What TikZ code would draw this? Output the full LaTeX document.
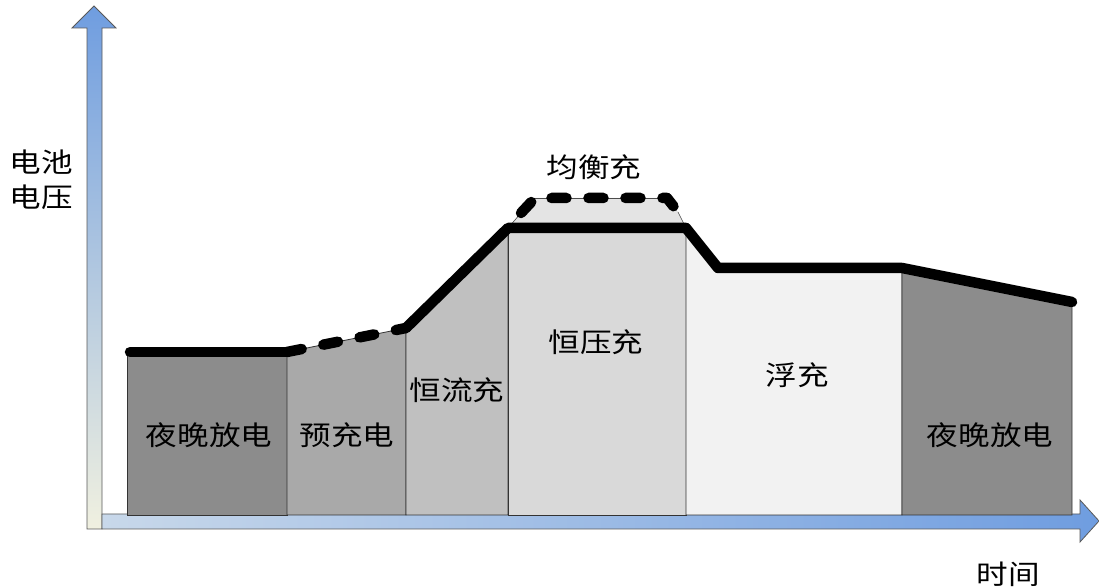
\documentclass[tikz,border=0pt]{standalone}
\usepackage{fontspec}
\newfontfamily\cjk{Noto Sans CJK SC}
\begin{document}
\begin{tikzpicture}[x=1pt,y=1pt,
  lbl/.style={font=\cjk\fontsize{27}{35}\selectfont, inner sep=0pt, xscale=1.17, align=center},
  region/.style={draw=black!80, line width=0.8pt},
  thick line/.style={line width=10.5pt, line cap=round, line join=round},
  thick dash/.style={line width=10.5pt, line cap=round, line join=round, dash pattern=on 15pt off 22pt},
  thin link/.style={line width=0.6pt, draw=black!70},
  arrowbody/.style={draw=black!65, line width=0.8pt}]
\definecolor{gA}{HTML}{8C8C8C}
\definecolor{gB}{HTML}{A9A9A9}
\definecolor{gC}{HTML}{C0C0C0}
\definecolor{gD}{HTML}{D9D9D9}
\definecolor{gE}{HTML}{F2F2F2}
\definecolor{blueA}{HTML}{6F9DE0}
\definecolor{blueB}{HTML}{C8D8EA}
\definecolor{paleY}{HTML}{F0F0E0}
\useasboundingbox (0,0) rectangle (1099,588);

% key points
\coordinate (p0) at (130,236);
\coordinate (p1) at (287,236);
\coordinate (p2) at (406,260);
\coordinate (p3) at (508,360);
\coordinate (p4) at (686,360);
\coordinate (p5) at (718,320);
\coordinate (p6) at (902,320);
\coordinate (p7) at (1072,286);
\coordinate (q0) at (521,375);
\coordinate (q1) at (535,390);
\coordinate (q2) at (667,390);
\coordinate (q3) at (678,376);

% vertical axis arrow
\shade[top color=blueA, bottom color=paleY, arrowbody]
  (87,59) -- (87,560) -- (72,560) -- (94,582) -- (116,560) -- (102,560) -- (102,59) -- cycle;
% horizontal axis arrow
\shade[left color=blueB, right color=blueA, arrowbody]
  (102,59) -- (102,74) -- (1080,74) -- (1080,88) -- (1099,67) -- (1080,46) -- (1080,59) -- cycle;

% regions
\fill[gD!70!white] (508,360) -- (q0) -- (q1) -- (q2) -- (q3) -- (686,360) -- cycle;
\filldraw[region, fill=gA] (127,73) rectangle (287,236);
\filldraw[region, fill=gB] (287,73) -- (287,236) -- (406,260) -- (406,73) -- cycle;
\filldraw[region, fill=gC] (406,73) -- (406,260) -- (508,360) -- (508,73) -- cycle;
\filldraw[region, fill=gD] (508,73) rectangle (686,360);
\filldraw[region, fill=gE] (686,73) -- (686,360) -- (718,320) -- (902,320) -- (902,73) -- cycle;
\filldraw[region, fill=gA] (902,73) -- (902,320) -- (1072,286) -- (1072,73) -- cycle;

% voltage curve
\draw[thin link] (p3) -- (q0);
\draw[thin link] (q3) -- (p4);
\draw[thin link] (q1) -- (q2);
\draw[thick line] (p0) -- (p1);
\draw[thick dash] (p1) -- (p2);
\draw[thick line] (p2) -- (p3) -- (p4) -- (p5) -- (p6) -- (p7);
\draw[thick dash] (q0) -- (q1) -- (q2) -- (q3);

% labels
\node[lbl] (ylab) at (41,408) {电池\\电压};
\node[lbl] (xlab) at (1008,14) {时间};
\node[lbl] (n1) at (209,153) {夜晚放电};
\node[lbl] (n2) at (347,153) {预充电};
\node[lbl] (n3) at (457,198) {恒流充};
\node[lbl] (n4) at (596,246) {恒压充};
\node[lbl] (n5) at (797,213) {浮充};
\node[lbl] (n6) at (990,153) {夜晚放电};
\node[lbl] (n7) at (594,421) {均衡充};
\end{tikzpicture}
\end{document}
